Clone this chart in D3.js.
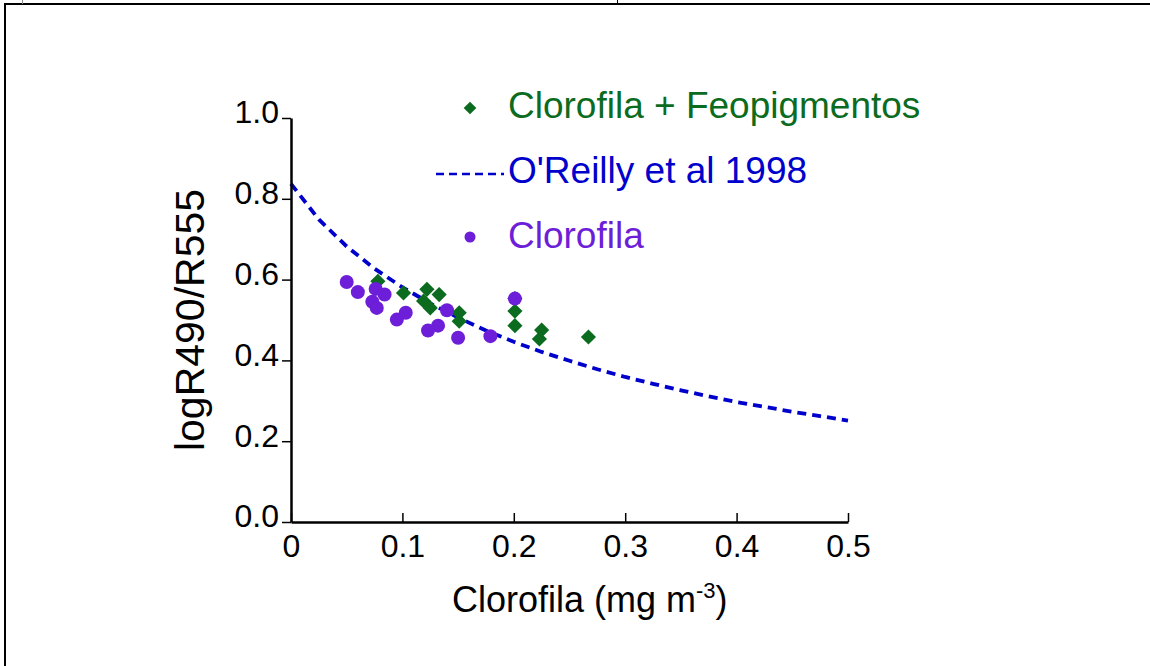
<!DOCTYPE html>
<html>
<head>
<meta charset="utf-8">
<script src="https://cdn.jsdelivr.net/npm/d3@7"></script>
<style>
  body { margin: 0; background: #fff; }
  text { font-family: Arial, "Liberation Sans", sans-serif; }
</style>
</head>
<body>
<div id="wrapper"></div>
<script>
// data
const xTicks = [0, 0.1, 0.2, 0.3, 0.4, 0.5];
const yTicks = [0, 0.2, 0.4, 0.6, 0.8, 1.0];

// Clorofila + Feopigmentos (green diamonds)
const feoChl = [0.078, 0.101, 0.119, 0.122, 0.125, 0.133, 0.151, 0.151, 0.201, 0.201, 0.201, 0.225, 0.223, 0.267];
const feoRatio = [0.596, 0.567, 0.547, 0.576, 0.530, 0.563, 0.518, 0.497, 0.553, 0.522, 0.486, 0.475, 0.453, 0.458];

// Clorofila (purple circles)
const chlChl = [0.050, 0.060, 0.076, 0.084, 0.073, 0.077, 0.103, 0.095, 0.140, 0.132, 0.123, 0.150, 0.179, 0.201];
const chlRatio = [0.594, 0.569, 0.577, 0.563, 0.545, 0.530, 0.518, 0.501, 0.524, 0.486, 0.474, 0.456, 0.460, 0.553];

// O'Reilly et al 1998 (dashed curve)
const oreillyChl = [0, 0.025, 0.05, 0.075, 0.1, 0.125, 0.15, 0.175, 0.2, 0.225, 0.25, 0.275, 0.3, 0.325, 0.35, 0.375, 0.4, 0.425, 0.45, 0.475, 0.5];
const oreillyRatio = [0.837, 0.749, 0.682, 0.627, 0.581, 0.541, 0.506, 0.474, 0.446, 0.421, 0.399, 0.378, 0.359, 0.342, 0.326, 0.311, 0.297, 0.285, 0.273, 0.262, 0.251];

const legendLabels = ["Clorofila + Feopigmentos", "O'Reilly et al 1998", "Clorofila"];

const green = "#0b6b1e";
const blue = "#0000cc";
const purple = "#6c1ed8";

const dimensions = {
  width: 1150,
  height: 666,
  left: 291,
  right: 848,
  top: 118,
  bottom: 522
};

const wrapper = d3.select("#wrapper")
  .append("svg")
  .attr("width", dimensions.width)
  .attr("height", dimensions.height);

// frame
wrapper.append("line")
  .attr("x1", 4).attr("x2", 1150).attr("y1", 4).attr("y2", 4)
  .attr("stroke", "#000").attr("stroke-width", 2);
wrapper.append("line")
  .attr("x1", 5).attr("x2", 5).attr("y1", 4).attr("y2", 666)
  .attr("stroke", "#000").attr("stroke-width", 2);
wrapper.append("line")
  .attr("x1", 22.5).attr("x2", 22.5).attr("y1", 0).attr("y2", 4)
  .attr("stroke", "#888").attr("stroke-width", 1);
wrapper.append("line")
  .attr("x1", 617.5).attr("x2", 617.5).attr("y1", 0).attr("y2", 4)
  .attr("stroke", "#000").attr("stroke-width", 1);

// scales
const xScale = d3.scaleLinear()
  .domain([0, 0.5])
  .range([dimensions.left, dimensions.right]);

const yScale = d3.scaleLinear()
  .domain([0, 1])
  .range([dimensions.bottom, dimensions.top]);

// curve
const curveData = oreillyChl.map((c, i) => [c, oreillyRatio[i]]);
const lineGenerator = d3.line()
  .x(d => xScale(d[0]))
  .y(d => yScale(d[1]));

wrapper.append("path")
  .attr("d", lineGenerator(curveData))
  .attr("fill", "none")
  .attr("stroke", blue)
  .attr("stroke-width", 3.8)
  .attr("stroke-dasharray", "9,6");

// points
const diamond = d3.symbol().type(d3.symbolSquare).size(115);
wrapper.append("g")
  .selectAll("path")
  .data(feoChl.map((c, i) => [c, feoRatio[i]]))
  .join("path")
  .attr("d", diamond)
  .attr("transform", d => `translate(${xScale(d[0])},${yScale(d[1])}) rotate(45)`)
  .attr("fill", green);

wrapper.append("g")
  .selectAll("circle")
  .data(chlChl.map((c, i) => [c, chlRatio[i]]))
  .join("circle")
  .attr("cx", d => xScale(d[0]))
  .attr("cy", d => yScale(d[1]))
  .attr("r", 7)
  .attr("fill", purple);

// axes
const yAxis = wrapper.append("g")
  .attr("transform", `translate(${dimensions.left},0)`)
  .call(d3.axisLeft(yScale)
    .tickValues(yTicks)
    .tickFormat(d3.format(".1f"))
    .tickSizeInner(9)
    .tickSizeOuter(0)
    .tickPadding(3));

const xAxis = wrapper.append("g")
  .attr("transform", `translate(0,${dimensions.bottom})`)
  .call(d3.axisBottom(xScale)
    .tickValues(xTicks)
    .tickFormat(d => d === 0 ? "0" : d3.format(".1f")(d))
    .tickSizeInner(-9)
    .tickSizeOuter(0)
    .tickPadding(12));

[xAxis, yAxis].forEach(axis => {
  axis.select(".domain").attr("stroke-width", 2.5);
  axis.selectAll(".tick line").attr("stroke-width", 1.5);
  axis.selectAll(".tick text")
    .attr("fill", "#000")
    .style("font-size", "32px")
    .style("font-family", "Arial, 'Liberation Sans', sans-serif");
});
yAxis.selectAll(".tick text").attr("dy", "0.15em");

// axis labels
const xLabel = wrapper.append("text")
  .attr("x", 452)
  .attr("y", 612)
  .attr("text-anchor", "start")
  .style("font-size", "36px")
  .attr("fill", "#000");
xLabel.append("tspan").text("Clorofila (mg m");
xLabel.append("tspan")
  .attr("dy", -14)
  .style("font-size", "22px")
  .text("-3");
xLabel.append("tspan")
  .attr("dy", 14)
  .text(")");

wrapper.append("text")
  .attr("transform", `translate(204,320) rotate(-90)`)
  .attr("text-anchor", "middle")
  .style("font-size", "41px")
  .attr("fill", "#000")
  .text("logR490/R555");

// legend
const legend = wrapper.append("g");
legend.append("path")
  .attr("d", d3.symbol().type(d3.symbolSquare).size(80))
  .attr("transform", "translate(470,108) rotate(45)")
  .attr("fill", green);
legend.append("line")
  .attr("x1", 436).attr("x2", 504)
  .attr("y1", 174).attr("y2", 174)
  .attr("stroke", blue)
  .attr("stroke-width", 2.5)
  .attr("stroke-dasharray", "8,5");
legend.append("circle")
  .attr("cx", 470).attr("cy", 237).attr("r", 5.5)
  .attr("fill", purple);

const legendColors = [green, blue, purple];
const legendBaselines = [118, 183, 248];
legend.selectAll("text")
  .data(legendLabels)
  .join("text")
  .attr("x", 508)
  .attr("y", (d, i) => legendBaselines[i])
  .attr("fill", (d, i) => legendColors[i])
  .style("font-size", "37px")
  .text(d => d);
</script>
</body>
</html>
